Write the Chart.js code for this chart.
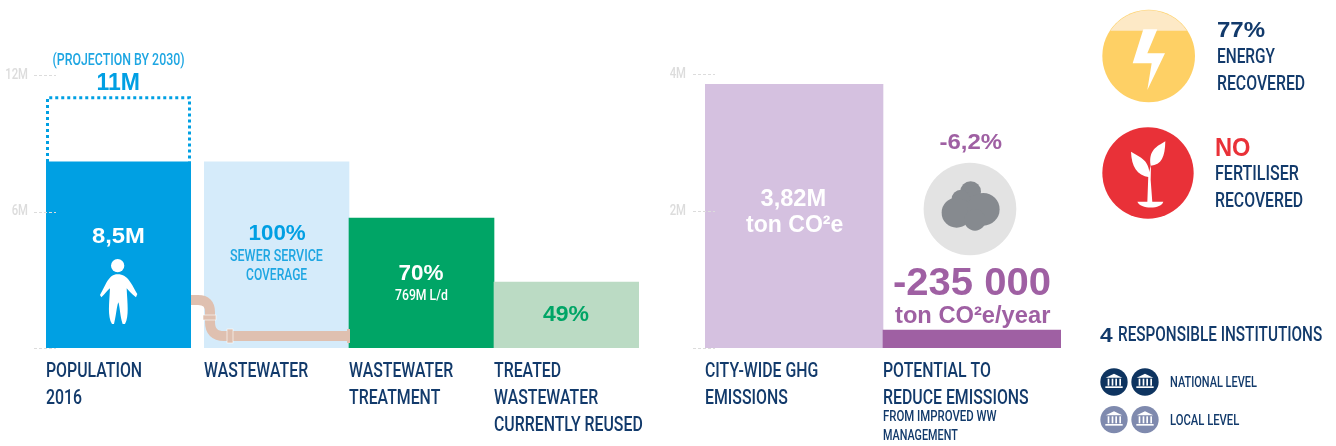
<!DOCTYPE html>
<html>
<head>
<meta charset="utf-8">
<script src="https://cdn.jsdelivr.net/npm/chart.js@4"></script>
<style>
    html, body { margin: 0; padding: 0; background: #fff; }
    #page { position: relative; width: 1336px; height: 446px; overflow: hidden; }
    canvas { position: absolute; top: 0; }
    svg { position: absolute; left: 0; top: 0; }
    .txt { position: absolute; white-space: nowrap; line-height: 1; }
    .narrow { font-family: Roboto, sans-serif; font-weight: 500; }
    .bold { font-family: "Liberation Sans", sans-serif; font-weight: 700; }
</style>
</head>
<body>
<div id="page">
    <canvas id="chartPopulation" width="200" height="446" style="left:0"></canvas>
    <canvas id="chartWater" width="460" height="446" style="left:204px"></canvas>
    <canvas id="chartGhg" width="420" height="446" style="left:660px"></canvas>

    <svg width="1336" height="446">
        <defs>
            <g id="temple" fill="#fff">
                <path d="M-25 -13 L0 -25 L25 -13Z"/>
                <rect x="-19" y="-10" width="5" height="21"/>
                <rect x="-7" y="-10" width="5" height="21"/>
                <rect x="4" y="-10" width="5" height="21"/>
                <rect x="16" y="-10" width="5" height="21"/>
                <rect x="-26" y="13" width="52" height="5"/>
            </g>
        </defs>
        <!-- tubo -->
        <path d="M191 300 H198 Q210 300 210 312 V322 Q210 336 224 336 H349" fill="none" stroke="#dfc0b0" stroke-width="10"/>
        <rect x="203" y="315" width="13" height="5" fill="#dfc0b0" stroke="#fff" stroke-width=".6"/>
        <rect x="227" y="329" width="6" height="14" fill="#dfc0b0" stroke="#fff" stroke-width=".6"/>
        <rect x="347" y="329" width="3" height="14" fill="#dfc0b0"/>
        <!-- pessoa -->
        <g transform="translate(0,40) scale(.3333)" fill="#fff">
            <circle cx="353" cy="677" r="20"/>
            <path d="M353 703 C385 703 395 735 412 762 L408 772 C395 762 385 750 380 745 C382 790 388 830 375 852 L368 852 C360 830 360 800 355 787 C350 800 348 830 342 852 L336 852 C322 830 328 790 330 745 C322 750 315 762 304 772 L300 765 C318 735 325 703 353 703Z"/>
        </g>
        <!-- nuvem -->
        <g transform="translate(660,50) scale(.3333)">
            <circle cx="930" cy="477" r="139" fill="#e3e3e3"/>
            <g fill="#868a8f">
                <circle cx="932" cy="425" r="31"/>
                <circle cx="903" cy="447" r="28"/>
                <circle cx="890" cy="488" r="45"/>
                <circle cx="970" cy="478" r="49"/>
                <circle cx="945" cy="510" r="32"/>
            </g>
        </g>
        <!-- energia / fertilizante -->
        <g transform="translate(1090,0) scale(.3333)">
            <circle cx="176" cy="168" r="139" fill="#fed065"/>
            <path d="M61 92 A139 139 0 0 1 291 92Z" fill="#fde9c6"/>
            <path d="M160 88 L202 88 L172 160 L225 160 L172 270 L185 190 L128 190Z" fill="#fff"/>
            <circle cx="174" cy="519" r="137" fill="#e93138"/>
            <g fill="#fff">
                <path d="M123 455 C150 472 182 480 178 532 C140 525 125 500 123 455Z"/>
                <path d="M226 424 C225 470 215 495 182 497 C175 450 200 440 226 424Z"/>
                <path d="M172 607 L175 525 L183 495 L182 540 L187 607Z"/>
                <path d="M142 605 H220 C215 628 150 628 142 605Z"/>
            </g>
        </g>
        <!-- instituicoes -->
        <g transform="translate(1090,310) scale(.3333)">
            <circle cx="72" cy="216" r="41" fill="#0e3460"/>
            <circle cx="165" cy="216" r="41" fill="#0e3460"/>
            <circle cx="72" cy="329" r="41" fill="#7f8aae"/>
            <circle cx="165" cy="329" r="41" fill="#7f8aae"/>
            <use href="#temple" x="72" y="216"/>
            <use href="#temple" x="165" y="216"/>
            <use href="#temple" x="72" y="329"/>
            <use href="#temple" x="165" y="329"/>
        </g>
    </svg>
</div>

<script>
// Dados
const populationLabels = [['POPULATION', '2016']];
const populationValues = [8.18];
const projectionValues = [11.07];

const waterLabels = [['WASTEWATER'], ['WASTEWATER', 'TREATMENT'], ['TREATED', 'WASTEWATER', 'CURRENTLY REUSED']];
const waterValues = [8.18, 5.71, 2.9];
const waterColors = ['#d5ebfa', '#00a566', '#bbdbc4'];

const ghgLabels = [['CITY-WIDE GHG', 'EMISSIONS'], ['POTENTIAL TO', 'REDUCE EMISSIONS']];
const ghgValues = [3.85, 0.26];
const ghgColors = ['#d5c1e0', '#9f60a3'];

const leftTicks = { 0: '', 6: '6M', 12: '12M' };
const rightTicks = { 0: '', 2: '2M', 4: '4M' };

const NAVY = '#123a6b';
const LABEL_FONT = { family: 'Roboto, sans-serif', weight: '500', size: 21, lineHeight: 1.285 };
const NARROW = 0.755; // a fonte original e condensada

// fillText com largura maxima: aperta os rotulos do eixo
function condense(id) {
    const canvas = document.getElementById(id);
    const ctx = canvas.getContext('2d');
    ctx.fillText = function (t, x, y) {
        CanvasRenderingContext2D.prototype.fillText.call(ctx, t, x, y, ctx.measureText(t).width * NARROW);
    };
    return canvas;
}

// tracinhos do eixo, por cima das barras
const tickDashes = {
    id: 'tickDashes',
    afterDatasetsDraw(chart) {
        const y = chart.scales.y;
        if (!y.options.display) return;
        const ctx = chart.ctx;
        ctx.save();
        ctx.strokeStyle = '#dcdcdc';
        ctx.lineWidth = 1;
        ctx.setLineDash([3, 2]);
        y.ticks.forEach(t => {
            const py = Math.round(y.getPixelForValue(t.value)) + 0.5;
            ctx.beginPath();
            ctx.moveTo(chart.chartArea.left - 12, py);
            ctx.lineTo(chart.chartArea.left + 10, py);
            ctx.stroke();
        });
        ctx.restore();
    }
};

// contorno pontilhado da projecao
const dottedBar = {
    id: 'dottedBar',
    afterDatasetsDraw(chart) {
        const bar = chart.getDatasetMeta(1).data[0];
        const { x, y, width } = bar.getProps(['x', 'y', 'width'], true);
        const bottom = chart.getDatasetMeta(0).data[0].y;
        const ctx = chart.ctx;
        ctx.save();
        ctx.strokeStyle = '#00a0e3';
        ctx.lineWidth = 3;
        ctx.setLineDash([3, 3]);
        ctx.beginPath();
        ctx.moveTo(x - width / 2 + 1.5, bottom);
        ctx.lineTo(x - width / 2 + 1.5, y + 1.5);
        ctx.lineTo(x + width / 2 - 1.5, y + 1.5);
        ctx.lineTo(x + width / 2 - 1.5, bottom);
        ctx.stroke();
        ctx.restore();
    }
};

function yScale(max, step, tickMap, show, axisWidth, padding) {
    return {
        display: show,
        min: 0,
        max: max,
        grid: { display: false, drawTicks: false },
        border: { display: false },
        ticks: {
            stepSize: step,
            color: '#dcdcdc',
            padding: padding,
            font: { family: 'Roboto, sans-serif', weight: '500', size: 15 },
            callback: v => tickMap[v]
        },
        afterFit(s) { s.width = axisWidth; }
    };
}

function xScale(halfWidth) {
    return {
        grid: { display: false, drawTicks: false },
        border: { display: false },
        ticks: {
            autoSkip: false,
            maxRotation: 0,
            minRotation: 0,
            align: 'start',
            labelOffset: -halfWidth,
            padding: 10,
            color: NAVY,
            font: LABEL_FONT
        },
        afterFit(s) { s.height = 98; s.paddingLeft = 0; s.paddingRight = 0; }
    };
}

function baseOptions(scales, padTop, padRight) {
    return {
        responsive: false,
        animation: false,
        devicePixelRatio: 1,
        layout: { padding: { top: padTop, right: padRight, left: 0, bottom: 0 } },
        plugins: { legend: { display: false }, tooltip: { enabled: false } },
        scales: scales
    };
}

new Chart(condense('chartPopulation'), {
    type: 'bar',
    data: {
        labels: populationLabels,
        datasets: [
            { label: 'Population 2016', data: populationValues, backgroundColor: '#00a0e3', barPercentage: 1, categoryPercentage: 1, grouped: false, order: 1 },
            { label: 'Projection by 2030', data: projectionValues, backgroundColor: 'rgba(0,0,0,0)', barPercentage: 1, categoryPercentage: 1, grouped: false, order: 2 }
        ]
    },
    options: baseOptions({ x: xScale(72.5), y: yScale(12, 6, leftTicks, true, 46, 18) }, 75, 9),
    plugins: [tickDashes, dottedBar]
});

new Chart(condense('chartWater'), {
    type: 'bar',
    data: {
        labels: waterLabels,
        datasets: [{ data: waterValues, backgroundColor: waterColors, barPercentage: 1, categoryPercentage: 1 }]
    },
    options: baseOptions({ x: xScale(72.5), y: yScale(12, 6, leftTicks, false, 0, 0) }, 75, 25)
});

new Chart(condense('chartGhg'), {
    type: 'bar',
    data: {
        labels: ghgLabels,
        datasets: [{ data: ghgValues, backgroundColor: ghgColors, barPercentage: 1, categoryPercentage: 1 }]
    },
    options: baseOptions({ x: xScale(89), y: yScale(4, 2, rightTicks, true, 45, 19) }, 74, 19),
    plugins: [tickDashes]
});

// Textos soltos: x = ancora, y = centro vertical, w = largura medida na referencia
function addText(text, x, y, size, color, cls, align, w) {
    const el = document.createElement('div');
    el.className = 'txt ' + cls;
    el.textContent = text;
    el.style.fontSize = size + 'px';
    el.style.color = color;
    document.getElementById('page').appendChild(el);
    const sx = w ? w / el.offsetWidth : 1;
    const h = el.offsetHeight;
    if (align === 'center') {
        el.style.left = (x - el.offsetWidth / 2) + 'px';
        el.style.transformOrigin = 'center';
    } else {
        el.style.left = x + 'px';
        el.style.transformOrigin = 'left center';
    }
    el.style.top = (y - h / 2) + 'px';
    el.style.transform = 'scaleX(' + sx + ')';
}

const BLUE = '#009fe3', LIGHT_BLUE = '#1ea6e2', GREEN = '#00a566', PURPLE = '#9f60a3', RED = '#e93138';

addText('(PROJECTION BY 2030)', 118, 60, 16, LIGHT_BLUE, 'narrow', 'center', 132);
addText('11M', 118, 82, 23, BLUE, 'bold', 'center', 43);
addText('8,5M', 118, 236, 22, '#fff', 'bold', 'center', 53);
addText('100%', 276.5, 233, 22, BLUE, 'bold', 'center', 57);
addText('SEWER SERVICE', 276.5, 256, 16, LIGHT_BLUE, 'narrow', 'center', 93);
addText('COVERAGE', 276.5, 275, 16, LIGHT_BLUE, 'narrow', 'center', 61);
addText('70%', 421, 273, 22, '#fff', 'bold', 'center', 45);
addText('769M L/d', 421, 295, 15, '#fff', 'narrow', 'center', 53);
addText('49%', 566, 314, 22, GREEN, 'bold', 'center', 46);

addText('3,82M', 793, 198, 24, '#fff', 'bold', 'center', 66);
addText('ton CO²e', 794, 224, 24, '#fff', 'bold', 'center', 97);
addText('-6,2%', 970, 142, 22, PURPLE, 'bold', 'center', 62);
addText('-235 000', 972, 282, 38, PURPLE, 'bold', 'center', 158);
addText('ton CO²e/year', 972, 315, 24, PURPLE, 'bold', 'center', 155);
addText('FROM IMPROVED WW', 883, 416, 15, NAVY, 'narrow', 'left', 114);
addText('MANAGEMENT', 883, 435, 15, NAVY, 'narrow', 'left', 75);

addText('77%', 1217, 30, 22, NAVY, 'bold', 'left', 48);
addText('ENERGY', 1217, 56, 21, NAVY, 'narrow', 'left', 58);
addText('RECOVERED', 1217, 83, 21, NAVY, 'narrow', 'left', 88);
addText('NO', 1215, 147, 25, RED, 'bold', 'left', 36);
addText('FERTILISER', 1215, 173, 21, NAVY, 'narrow', 'left', 84);
addText('RECOVERED', 1215, 200, 21, NAVY, 'narrow', 'left', 88);

addText('4', 1100, 334, 21, NAVY, 'bold', 'left', 13);
addText('RESPONSIBLE INSTITUTIONS', 1118, 334, 21, NAVY, 'narrow', 'left', 204);
addText('NATIONAL LEVEL', 1169.5, 382, 15, NAVY, 'narrow', 'left', 87);
addText('LOCAL LEVEL', 1169.5, 420, 15, NAVY, 'narrow', 'left', 69);
</script>
</body>
</html>
